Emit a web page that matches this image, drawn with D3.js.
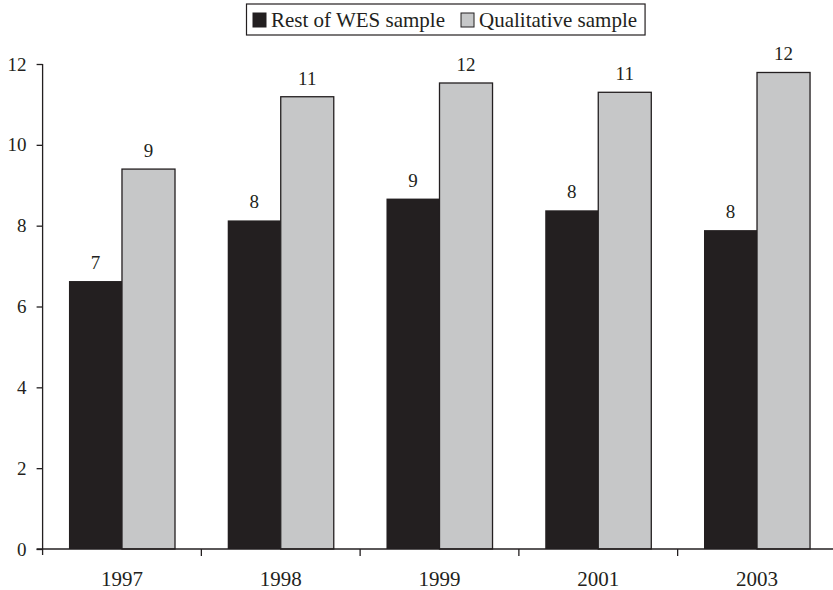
<!DOCTYPE html>
<html>
<head>
<meta charset="utf-8">
<script src="https://cdn.jsdelivr.net/npm/d3@7"></script>
<style>
  html,body{margin:0;padding:0;background:#fff;}
  svg{display:block;}
  text{font-family:"Liberation Serif","Times New Roman",serif;fill:#231f20;}
</style>
</head>
<body>
<svg id="chart" width="833" height="590"></svg>
<script>
/* ── data ── */
var years=['1997','1998','1999','2001','2003'];
var seriesNames=['Rest of WES sample','Qualitative sample'];
var restWES=[6.63,8.13,8.67,8.38,7.89];
var qualitative=[9.40,11.19,11.53,11.30,11.79];
var yTicks=[0,2,4,6,8,10,12];

var ink='#231f20', grey='#c6c7c8';
var colors=[ink,grey];

var svg=d3.select('#chart');
var X0=42.6, X1=836.4, Y0=549, Y1=64;

var x0=d3.scaleBand().domain(years).range([X0,X1]).paddingInner(0.332).paddingOuter(0.166);
var x1=d3.scaleBand().domain(seriesNames).range([0,x0.bandwidth()]);
var y=d3.scaleLinear().domain([0,12]).range([Y0,Y1]);

var rows=years.map(function(yr,i){
  return {year:yr, vals:[{s:seriesNames[0],v:restWES[i]},{s:seriesNames[1],v:qualitative[i]}]};
});

/* bars */
var grp=svg.selectAll('g.yr').data(rows).enter().append('g')
  .attr('class','yr')
  .attr('transform',function(d){return 'translate('+x0(d.year)+',0)';});

grp.selectAll('rect').data(function(d){return d.vals;}).enter().append('rect')
  .attr('x',function(d){return x1(d.s);})
  .attr('y',function(d){return y(d.v);})
  .attr('width',x1.bandwidth())
  .attr('height',function(d){return Y0-y(d.v);})
  .attr('fill',function(d,i){return colors[i];})
  .attr('stroke',function(d,i){return i===1?ink:'none';})
  .attr('stroke-width',1.3);

grp.selectAll('text.val').data(function(d){return d.vals;}).enter().append('text')
  .attr('class','val')
  .attr('x',function(d){return x1(d.s)+x1.bandwidth()/2;})
  .attr('y',function(d){return y(d.v)-12;})
  .attr('text-anchor','middle')
  .attr('font-size',19)
  .text(function(d){return Math.round(d.v);});

/* y axis */
var yAx=svg.append('g').attr('transform','translate('+X0+',0)')
  .call(d3.axisLeft(y).tickValues(yTicks).tickSize(6).tickPadding(10));
yAx.select('.domain').remove();
yAx.selectAll('line').attr('stroke',ink).attr('stroke-width',1.3);
yAx.selectAll('text').attr('font-size',19).attr('fill',ink);
svg.append('line').attr('x1',X0).attr('x2',X0).attr('y1',Y1).attr('y2',Y0+6)
  .attr('stroke',ink).attr('stroke-width',1.3);

/* x axis */
svg.append('line').attr('x1',X0-6).attr('x2',833).attr('y1',Y0).attr('y2',Y0)
  .attr('stroke',ink).attr('stroke-width',1.3);
var step=x0.step();
years.forEach(function(yr,i){
  if(i>0){
    var bx=X0+i*step;
    svg.append('line').attr('x1',bx).attr('x2',bx).attr('y1',Y0).attr('y2',Y0+7)
      .attr('stroke',ink).attr('stroke-width',1.3);
  }
  svg.append('text').attr('x',x0(yr)+x0.bandwidth()/2).attr('y',586)
    .attr('text-anchor','middle').attr('font-size',21).text(yr);
});

/* legend */
var lg=svg.append('g');
var box=lg.append('rect').attr('x',246.5).attr('y',4).attr('width',396).attr('height',31)
  .attr('fill','#fff').attr('stroke',ink).attr('stroke-width',1.2);
var cx=253;
seriesNames.forEach(function(s,i){
  lg.append('rect').attr('x',cx).attr('y',13).attr('width',13).attr('height',14)
    .attr('fill',colors[i]).attr('stroke',ink).attr('stroke-width',1);
  var t=lg.append('text').attr('x',cx+18).attr('y',27).attr('font-size',21).text(s);
  cx+=18+t.node().getComputedTextLength()+(i===0?16:8);
});
box.attr('width',cx-246.5);
</script>
</body>
</html>
